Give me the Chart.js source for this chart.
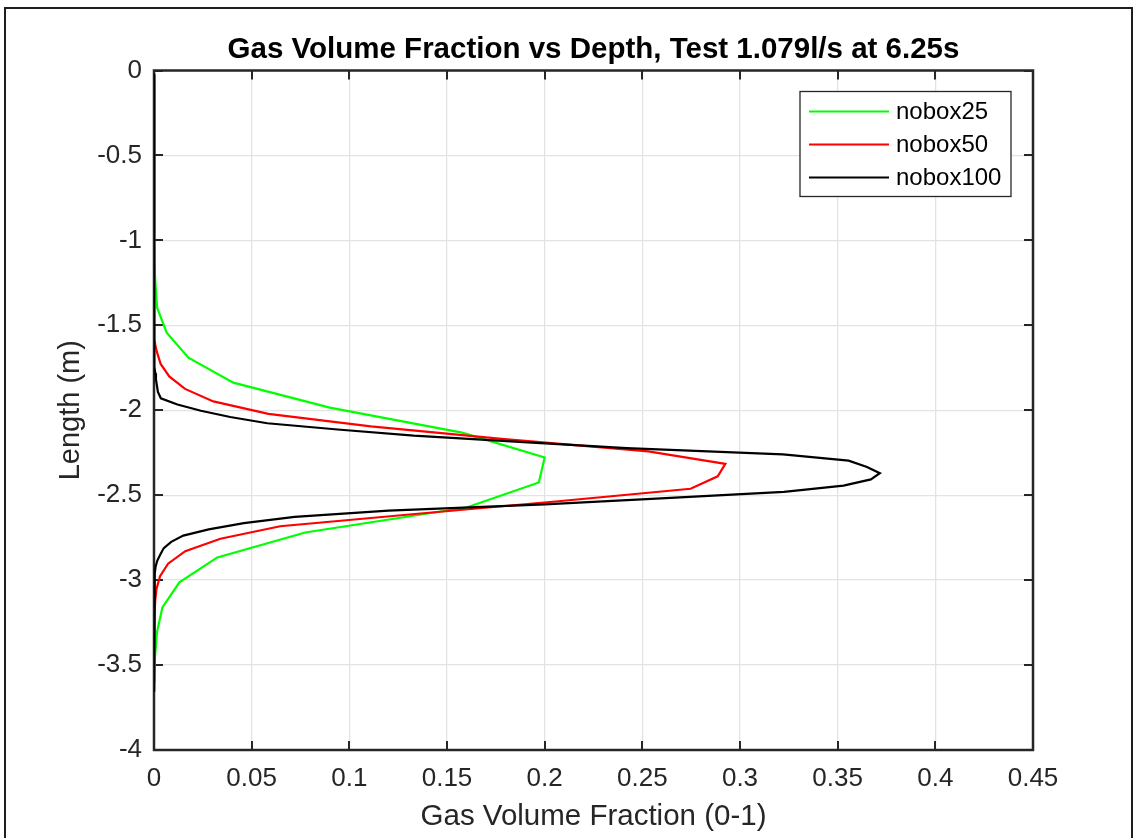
<!DOCTYPE html>
<html>
<head>
<meta charset="utf-8">
<title>Gas Volume Fraction vs Depth</title>
<script src="https://cdn.jsdelivr.net/npm/chart.js@4.4.1/dist/chart.umd.min.js"></script>
<style>
    html, body { margin: 0; padding: 0; background: #fff; overflow: hidden; }
    .wrap { position: relative; width: 1137px; height: 838px; }
    .frame { position: absolute; left: 4px; top: 7px; width: 1129px; height: 900px; border: 2px solid #1e1e1e; box-sizing: border-box; }
    .wrap canvas { position: absolute; left: 0; top: 0; }
</style>
</head>
<body>
<div class="wrap">
    <div class="frame"></div>
    <canvas id="chart" width="1137" height="838"></canvas>
</div>
<script>
// depth of each cell centre (m) and gas volume fraction for the three meshes
const depth25 = [-0.0735, -0.2205, -0.3675, -0.5145, -0.6615, -0.8085, -0.9555, -1.1025, -1.2495,
    -1.3965, -1.5435, -1.6905, -1.8375, -1.9845, -2.1315, -2.2785, -2.4255, -2.5725, -2.7195,
    -2.8665, -3.0135, -3.1605, -3.3075, -3.4545, -3.6015];
const gvf25 = [0, 0, 0, 0, 0, 0, 0.0001, 0.0003, 0.0007, 0.0016, 0.0065, 0.0176, 0.0406,
    0.0900, 0.1577, 0.2000, 0.1970, 0.1600, 0.0774, 0.0324, 0.0130, 0.0043, 0.0015, 0.0005, 0.0002];

const depth50 = [-0.0368, -0.1103, -0.1838, -0.2573, -0.3308, -0.4043, -0.4778, -0.5513, -0.6248,
    -0.6983, -0.7718, -0.8453, -0.9188, -0.9923, -1.0658, -1.1393, -1.2128, -1.2863, -1.3598,
    -1.4333, -1.5068, -1.5803, -1.6538, -1.7273, -1.8008, -1.8743, -1.9478, -2.0213, -2.0948,
    -2.1683, -2.2418, -2.3153, -2.3888, -2.4623, -2.5358, -2.6093, -2.6828, -2.7563, -2.8298,
    -2.9033, -2.9768, -3.0503, -3.1238, -3.1973, -3.2708, -3.3443, -3.4178, -3.4913, -3.5648, -3.6383];
const gvf50 = [0, 0, 0, 0, 0, 0, 0, 0, 0, 0, 0, 0, 0, 0, 0, 0, 0, 0, 0,
    0.0001, 0.0002, 0.0005, 0.0014, 0.0034, 0.0078, 0.0159, 0.0304, 0.0586, 0.1110,
    0.1780, 0.2530, 0.2925, 0.2886, 0.2747, 0.2070, 0.1350, 0.0646, 0.0340, 0.0160,
    0.0072, 0.0031, 0.0013, 0.0006, 0.0003, 0.0001, 0, 0, 0, 0, 0];

const depth100 = [-0.0184, -0.3859, -0.7534, -1.1209, -1.4884, -1.6354, -1.7089, -1.7457, -1.7824,
    -1.8192, -1.8559, -1.8927, -1.9294, -1.9662, -2.0029, -2.0397, -2.0764, -2.1132, -2.1499,
    -2.1867, -2.2234, -2.2602, -2.2969, -2.3337, -2.3704, -2.4072, -2.4439, -2.4807, -2.5174,
    -2.5542, -2.5909, -2.6277, -2.6644, -2.7012, -2.7379, -2.7747, -2.8114, -2.8482, -2.8849,
    -2.9217, -2.9584, -3.0319, -3.1789, -3.3259, -3.6567];
const gvf100 = [0, 0, 0, 0, 0.0001, 0.0002, 0.0004, 0.0005, 0.0007,
    0.0010, 0.0015, 0.0020, 0.0035, 0.0120, 0.0240, 0.0390, 0.0580, 0.0940, 0.1330,
    0.1870, 0.2420, 0.3220, 0.3556, 0.3650, 0.3716, 0.3670, 0.3530, 0.3225, 0.2620,
    0.2000, 0.1200, 0.0720, 0.0460, 0.0280, 0.0150, 0.0088, 0.0050, 0.0033, 0.0017,
    0.0008, 0.0004, 0.0002, 0.0001, 0, 0];

const seriesNames = ['nobox25', 'nobox50', 'nobox100'];
const seriesColors = ['#00ff00', '#ff0000', '#000000'];

const xTicks = [0, 0.05, 0.1, 0.15, 0.2, 0.25, 0.3, 0.35, 0.4, 0.45];
const yTicks = [-4, -3.5, -3, -2.5, -2, -1.5, -1, -0.5, 0];

const FONT = '"Liberation Sans", Arial, Helvetica, sans-serif';
const INK = '#262626';

function toPoints(xs, ys) {
    return xs.map((v, i) => ({ x: v, y: ys[i] }));
}

// inward tick marks and the closed box round the plot area
const boxAxes = {
    id: 'boxAxes',
    beforeDatasetsDraw(chart) {
        const { ctx, chartArea: a, scales: { x, y } } = chart;
        const len = 9;
        ctx.save();
        ctx.strokeStyle = INK;
        ctx.lineWidth = 2;
        ctx.beginPath();
        x.ticks.forEach(t => {
            const px = Math.round(x.getPixelForValue(t.value));
            ctx.moveTo(px, a.bottom); ctx.lineTo(px, a.bottom - len);
            ctx.moveTo(px, a.top); ctx.lineTo(px, a.top + len);
        });
        y.ticks.forEach(t => {
            const py = Math.round(y.getPixelForValue(t.value));
            ctx.moveTo(a.left, py); ctx.lineTo(a.left + len, py);
            ctx.moveTo(a.right, py); ctx.lineTo(a.right - len, py);
        });
        ctx.stroke();
        ctx.lineWidth = 2.5;
        ctx.strokeRect(a.left, a.top, a.right - a.left, a.bottom - a.top);
        ctx.restore();
    }
};

// boxed legend in the top right corner of the plot
const boxLegend = {
    id: 'boxLegend',
    afterDraw(chart) {
        const { ctx, chartArea: a } = chart;
        const w = 211, h = 105;
        const left = a.right - 22 - w, top = a.top + 21;
        ctx.save();
        ctx.fillStyle = '#fff';
        ctx.fillRect(left, top, w, h);
        ctx.strokeStyle = INK;
        ctx.lineWidth = 1.3;
        ctx.strokeRect(left, top, w, h);
        ctx.font = '24px ' + FONT;
        ctx.textBaseline = 'middle';
        chart.data.datasets.forEach((ds, i) => {
            const cy = top + 20 + i * 33;
            ctx.strokeStyle = ds.borderColor;
            ctx.lineWidth = 2.2;
            ctx.beginPath();
            ctx.moveTo(left + 9, cy);
            ctx.lineTo(left + 89, cy);
            ctx.stroke();
            ctx.fillStyle = '#000';
            ctx.fillText(ds.label, left + 96, cy + 1);
        });
        ctx.restore();
    }
};

const ctx = document.getElementById('chart').getContext('2d');
new Chart(ctx, {
    type: 'scatter',
    data: {
        datasets: [
            { label: seriesNames[0], data: toPoints(gvf25, depth25), borderColor: seriesColors[0], order: 2 },
            { label: seriesNames[1], data: toPoints(gvf50, depth50), borderColor: seriesColors[1], order: 1 },
            { label: seriesNames[2], data: toPoints(gvf100, depth100), borderColor: seriesColors[2], order: 0 }
        ].map(ds => Object.assign(ds, {
            showLine: true,
            borderWidth: 2.2,
            pointRadius: 0,
            pointHoverRadius: 0,
            tension: 0,
            fill: false
        }))
    },
    options: {
        responsive: false,
        animation: false,
        events: [],
        layout: { padding: { left: 0, right: 104, top: 0, bottom: 0 } },
        plugins: {
            legend: { display: false },
            tooltip: { enabled: false },
            title: {
                display: true,
                fullSize: false,
                text: 'Gas Volume Fraction vs Depth, Test 1.079l/s at 6.25s',
                color: '#000',
                font: { family: FONT, size: 29.5, weight: 'bold', lineHeight: 1 },
                padding: { top: 35, bottom: 6 }
            }
        },
        scales: {
            x: {
                type: 'linear',
                position: 'bottom',
                min: 0,
                max: 0.45,
                afterBuildTicks: s => { s.ticks = xTicks.map(v => ({ value: v })); },
                afterFit: s => { s.height = 88; },
                grid: { color: '#e3e3e3', lineWidth: 1.3, drawTicks: false },
                border: { display: false },
                ticks: {
                    color: INK,
                    padding: 13,
                    maxRotation: 0,
                    font: { family: FONT, size: 26, lineHeight: 1.2 },
                    callback: v => String(v)
                },
                title: {
                    display: true,
                    text: 'Gas Volume Fraction (0-1)',
                    color: INK,
                    font: { family: FONT, size: 29.5, lineHeight: 1 },
                    padding: { top: 0, bottom: 6 }
                }
            },
            y: {
                type: 'linear',
                position: 'left',
                min: -4,
                max: 0,
                afterBuildTicks: s => { s.ticks = yTicks.map(v => ({ value: v })); },
                afterFit: s => { s.width = 154; },
                grid: { color: '#e3e3e3', lineWidth: 1.3, drawTicks: false },
                border: { display: false },
                ticks: {
                    color: INK,
                    padding: 12,
                    font: { family: FONT, size: 26, lineHeight: 1.2 },
                    callback: v => String(v)
                },
                title: {
                    display: true,
                    text: 'Length (m)',
                    color: INK,
                    font: { family: FONT, size: 29, lineHeight: 1 },
                    padding: { top: 56, bottom: 0 }
                }
            }
        }
    },
    plugins: [boxAxes, boxLegend]
});
</script>
</body>
</html>
